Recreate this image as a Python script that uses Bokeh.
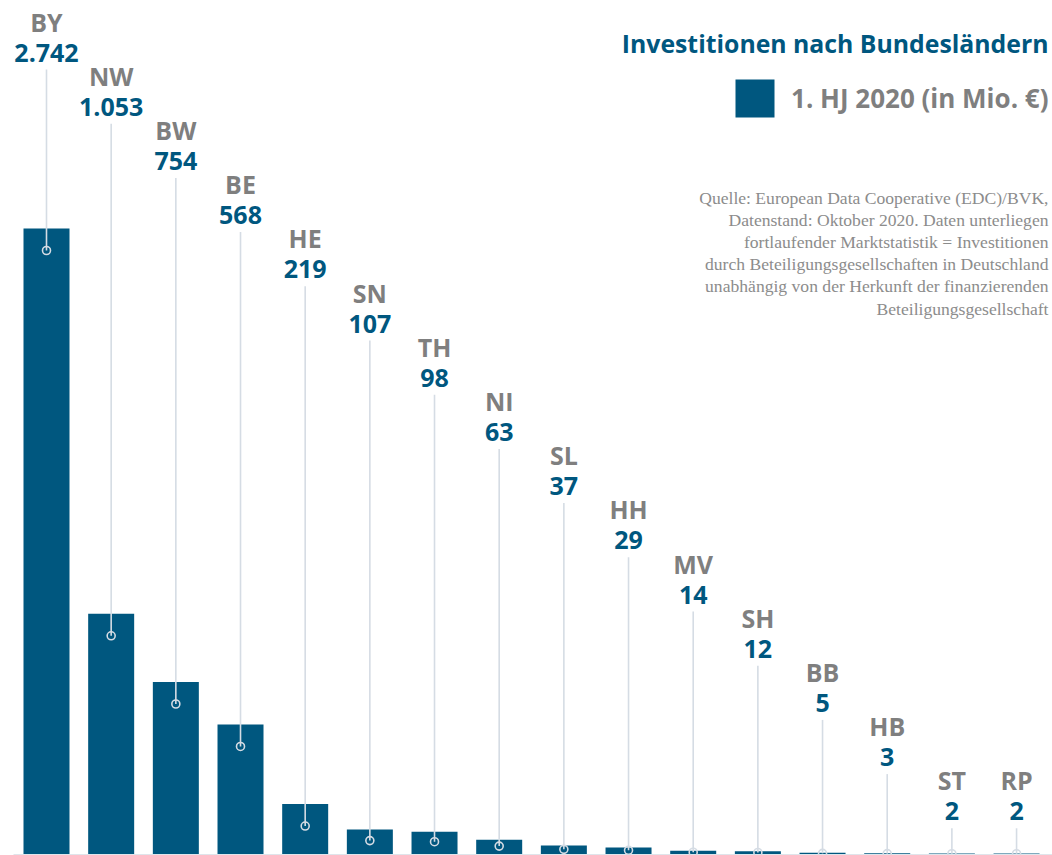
from bokeh.plotting import figure
from bokeh.models import Range1d
from bokeh.core.properties import value
from bokeh.embed import file_html
from bokeh.resources import INLINE

# ---- data ----
states = ["BY", "NW", "BW", "BE", "HE", "SN", "TH", "NI", "SL", "HH", "MV", "SH", "BB", "HB", "ST", "RP"]
values = [2742, 1053, 754, 568, 219, 107, 98, 63, 37, 29, 14, 12, 5, 3, 2, 2]
title_text = "Investitionen nach Bundesländern"
legend_text = "1. HJ 2020 (in Mio. €)"
source_lines = [
    "Quelle: European Data Cooperative (EDC)/BVK,",
    "Datenstand: Oktober 2020. Daten unterliegen",
    "fortlaufender Marktstatistik = Investitionen",
    "durch Beteiligungsgesellschaften in Deutschland",
    "unabhängig von der Herkunft der finanzierenden",
    "Beteiligungsgesellschaft",
]

# ---- styling / layout ----
BLUE = "#00577f"
GRAY = "#7f7f7f"
SRC_GRAY = "#8c8c8c"
LINE = "#d5dce4"
FONT = value("Open Sans")
SERIF = value("Liberation Serif")

W, H = 1052, 855


def fx(rx):
    return rx


def fy(ry):
    return ry


UX = 64.67                          # px per category step
x_start = -fx(46) / UX
x_end = x_start + W / UX
BASE = fy(853.5)                    # baseline px from top
PPU = (BASE - fy(228)) / values[0]  # px per unit
y_start = -(H - BASE) / PPU
y_end = y_start + H / PPU


def DX(px):
    return x_start + px / UX


def DY(px):
    return (BASE - px) / PPU


idx = list(range(len(states)))
rows = [min(i, 14) for i in idx]
code_y = [DY(fy(21 + 54.2 * r)) for r in rows]
val_y = [DY(fy(52 + 54.2 * r)) for r in rows]
line_top = [DY(fy(69 + 54.2 * r)) for r in rows]
off = 22 / PPU
circ_y = [max(v - off, v * 0.55) for v in values]
val_txt = [f"{v:,}".replace(",", ".") for v in values]

p = figure(width=W, height=H, output_backend="svg", toolbar_location=None,
           x_range=Range1d(x_start, x_end), y_range=Range1d(y_start, y_end),
           x_axis_location=None, y_axis_location=None, min_border=0)
p.outline_line_color = None
p.xgrid.visible = False
p.ygrid.visible = False
p.background_fill_color = "white"
p.border_fill_color = "white"

# baseline
p.segment(x0=[DX(fx(13))], y0=[DY(BASE + 1)], x1=[x_end], y1=[DY(BASE + 1)],
          line_color="#dfe5eb", line_width=2)

# bars
p.vbar(x=idx, top=values, bottom=0, width=46 / 64.67, fill_color=BLUE, line_color=None)

# leader lines + circles
p.segment(x0=idx, y0=circ_y, x1=idx, y1=line_top, line_color=LINE, line_width=1.6)
p.scatter(x=idx, y=circ_y, size=8, marker="circle", fill_color=None,
          line_color=LINE, line_width=1.6)

# labels
p.text(x=idx, y=code_y, text=states, text_align="center", text_baseline="middle",
       text_font=FONT, text_font_style="bold", text_font_size="25px", text_color=GRAY)
p.text(x=idx, y=val_y, text=val_txt, text_align="center", text_baseline="middle",
       text_font=FONT, text_font_style="bold", text_font_size="25px", text_color=BLUE)

# title
p.text(x=[DX(fx(1048))], y=[DY(fy(42))], text=[title_text], text_align="right",
       text_baseline="middle", text_font=FONT, text_font_style="bold",
       text_font_size="24.8px", text_color=BLUE)

# legend
p.rect(x=[DX(fx(754.5))], y=[DY(fy(98))], width=39, height=38,
       width_units="screen", height_units="screen", fill_color=BLUE, line_color=None)
p.text(x=[DX(fx(1048))], y=[DY(fy(97))], text=[legend_text], text_align="right",
       text_baseline="middle", text_font=FONT, text_font_style="bold",
       text_font_size="26px", text_color=GRAY)

# source
for k, s in enumerate(source_lines):
    p.text(x=[DX(fx(1048))], y=[DY(fy(197 + 22.2 * k))], text=[s], text_align="right",
           text_baseline="middle", text_font=SERIF, text_font_size="17.6px",
           text_color=SRC_GRAY)

open("out.html", "w").write(file_html(p, INLINE))
